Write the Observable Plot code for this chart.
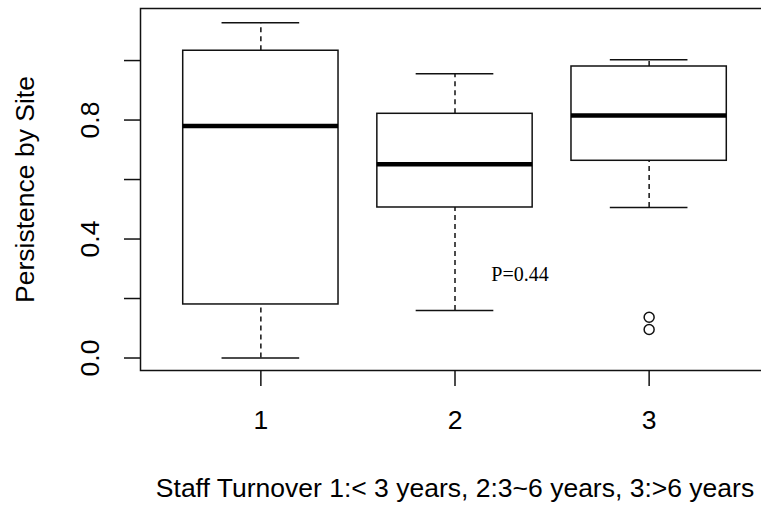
<!DOCTYPE html>
<html>
<head>
<meta charset="utf-8">
<script src="https://cdn.jsdelivr.net/npm/d3@7"></script>
<script src="https://cdn.jsdelivr.net/npm/@observablehq/plot@0.6"></script>
<style>
  html, body { margin: 0; padding: 0; background: white; }
  #chart { width: 761px; height: 506px; overflow: hidden; }
</style>
</head>
<body>
<div id="chart"></div>
<script>
// ---- data (R base boxplot) ----
const groups      = [1, 2, 3];
const xTickLabels = ["1", "2", "3"];
const whiskerLow  = [0.000, 0.160, 0.506];
const q1          = [0.180, 0.506, 0.663];
const median      = [0.780, 0.651, 0.815];
const q3          = [1.033, 0.821, 0.980];
const whiskerHigh = [1.127, 0.956, 1.003];
const outlierGroup = [3, 3];
const outlierValue = [0.137, 0.096];
const yTicks      = [0, 0.2, 0.4, 0.6, 0.8, 1.0];
const yTickLabels = [0, 0.4, 0.8];
const yTitle = "Persistence by Site";
const xTitle = "Staff Turnover 1:< 3 years, 2:3~6 years, 3:>6 years";
const annotText = ["P=0.44"];
const annotX = [2.335];
const annotY = [0.28];

const boxes = groups.map((g, i) => ({
  g, lo: whiskerLow[i], q1: q1[i], med: median[i], q3: q3[i], hi: whiskerHigh[i]
}));
const outliers = outlierGroup.map((g, i) => ({g, v: outlierValue[i]}));
const annots = annotText.map((t, i) => ({t, x: annotX[i], y: annotY[i]}));

const sans = "Liberation Sans, Arial, sans-serif";
const serif = "Liberation Serif, Times New Roman, serif";
const ink = "#111";
const lw = 1.5;
const fs = 26.5;
const halfBox = 0.4, halfCap = 0.2;

const chart = Plot.plot({
  width: 761,
  height: 506,
  marginLeft: 140,
  marginRight: -8,
  marginTop: 8,
  marginBottom: 136,
  style: {fontFamily: sans, fontSize: fs + "px", background: "white", color: "black"},
  x: {domain: [0.38, 3.62]},
  y: {domain: [-0.042, 1.175]},
  marks: [
    Plot.frame({stroke: ink, strokeWidth: lw}),
    // whiskers
    Plot.ruleX(boxes, {x: "g", y1: "q3", y2: "hi", stroke: ink, strokeWidth: lw, strokeDasharray: "5,4"}),
    Plot.ruleX(boxes, {x: "g", y1: "lo", y2: "q1", stroke: ink, strokeWidth: lw, strokeDasharray: "5,4"}),
    // staples
    Plot.ruleY(boxes, {y: "hi", x1: d => d.g - halfCap, x2: d => d.g + halfCap, stroke: ink, strokeWidth: lw}),
    Plot.ruleY(boxes, {y: "lo", x1: d => d.g - halfCap, x2: d => d.g + halfCap, stroke: ink, strokeWidth: lw}),
    // boxes
    Plot.rect(boxes, {x1: d => d.g - halfBox, x2: d => d.g + halfBox, y1: "q1", y2: "q3", fill: "white", stroke: ink, strokeWidth: lw}),
    // medians
    Plot.ruleY(boxes, {y: "med", x1: d => d.g - halfBox, x2: d => d.g + halfBox, stroke: "black", strokeWidth: 4.5}),
    // outliers
    Plot.dot(outliers, {x: "g", y: "v", r: 5, stroke: ink, strokeWidth: lw, fill: "none"}),
    // annotation
    Plot.text(annots, {x: "x", y: "y", text: "t", fontFamily: serif, fontSize: 20, fill: "black", lineAnchor: "middle"}),
    // axes
    Plot.axisX({ticks: groups, tickSize: 16, tickPadding: 24, fontSize: fs, stroke: ink, strokeWidth: lw,
      tickFormat: d => xTickLabels[groups.indexOf(d)], fill: "black"}),
    Plot.axisY({ticks: yTicks, tickSize: 16, tickFormat: () => "", stroke: ink, strokeWidth: lw}),
    Plot.text(yTickLabels, {y: d => d, text: d => d.toFixed(1), frameAnchor: "left", dx: -50, rotate: -90,
      fontSize: fs, fill: "black", lineAnchor: "middle", textAnchor: "middle"}),
    // titles
    Plot.text([yTitle], {frameAnchor: "left", dx: -115, rotate: -90, fontSize: fs, fill: "black",
      lineAnchor: "middle", textAnchor: "middle"}),
    Plot.text([xTitle], {frameAnchor: "bottom", dy: 118, fontSize: fs, fill: "black",
      lineAnchor: "middle", textAnchor: "middle"})
  ]
});
document.getElementById("chart").appendChild(chart);
</script>
</body>
</html>
